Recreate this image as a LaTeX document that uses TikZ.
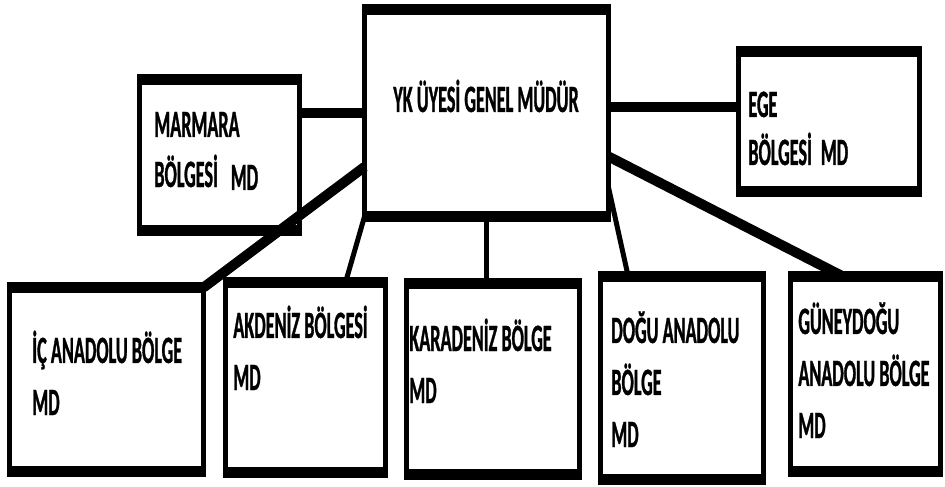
\documentclass[tikz,border=0pt]{standalone}
\usepackage{fontspec}
\setmainfont[FakeStretch=0.47, BoldFeatures={FakeBold=0.8}]{Carlito}
\usetikzlibrary{calc,fit}

\tikzset{
  region/.style={draw, fill=white, line width=0.1cm, inner sep=0pt, outer sep=0pt},
  bar/.style={line width=0.22cm},
  thinlink/.style={line width=0.1cm},
  thicklink/.style={line width=0.2cm},
  lbl/.style={inner sep=0pt, anchor=base west, align=left,
    font=\fontsize{22}{29.6}\selectfont\bfseries},
}

\begin{document}
\begin{tikzpicture}[x=0.02cm,y=-0.02cm]
  \useasboundingbox (0,0) rectangle (945,486);
  % boxes
  \node[region, fit={(364.5,9.5) (608.5,216.5)}] (yk) {};
  \node[region, fit={(139.5,79.5) (299.5,230.5)}] (marmara) {};
  \node[region, fit={(738.5,51.5) (919.5,191.5)}] (ege) {};
  \node[region, fit={(9.5,287.5) (203.5,471.5)}] (ic) {};
  \node[region, fit={(225.5,282.5) (385.5,472.5)}] (akdeniz) {};
  \node[region, fit={(406.5,283.5) (579.5,474.5)}] (karadeniz) {};
  \node[region, fit={(600.5,276.5) (763.5,479.5)}] (dogu) {};
  \node[region, fit={(790.5,276.5) (940.5,471.5)}] (guney) {};
  \foreach \n in {yk,marmara,ege,ic,akdeniz,karadeniz,dogu,guney} {
    \draw[bar] ([xshift=-0.05cm]\n.north west) -- ([xshift=0.05cm]\n.north east);
    \draw[bar] ([xshift=-0.05cm]\n.south west) -- ([xshift=0.05cm]\n.south east);
  }
  % links
  \draw[thicklink] (yk.west) -- (yk.west -| marmara.east);
  \draw[thicklink] ([yshift=0.12cm]yk.east) -- ([yshift=0.12cm]yk.east -| ege.west);
  \draw[thicklink] ($(yk.north west)!0.76!(yk.south west)$) -- (ic.north east);
  \draw[thinlink] (yk.south west) -- ($(akdeniz.north west)!0.75!(akdeniz.north east)$);
  \draw[thinlink] (yk.south) -- (yk.south |- karadeniz.north);
  \draw[thinlink] ($(yk.north east)!0.86!(yk.south east)$) -- ($(dogu.north west)!0.17!(dogu.north east)$);
  \draw[thicklink] ($(yk.north east)!0.71!(yk.south east)$) -- ($(guney.north west)!0.35!(guney.north east)$);
  % texts (base = last line)
  \node[lbl] (yk-t) at (393,112) {YK ÜYESİ GENEL MÜDÜR};
  \node[lbl] (marmara-t) at (154,187) {MARMARA\\[-0.04cm]BÖLGESİ\hspace{0.26cm}\raisebox{-0.06cm}{MD}};
  \node[lbl] (ege-t) at (748,165) {EGE\\[-0.08cm]BÖLGESİ\hspace{0.18cm}MD};
  \node[lbl] (ic-t) at (32,415) {İÇ ANADOLU BÖLGE\\MD};
  \node[lbl] (akdeniz-t) at (233,390) {AKDENİZ BÖLGESİ\\MD};
  \node[lbl] (karadeniz-t) at (409,403) {KARADENİZ BÖLGE\\MD};
  \node[lbl] (dogu-t) at (611,447) {DOĞU ANADOLU\\BÖLGE\\MD};
  \node[lbl] (guney-t) at (798,438) {GÜNEYDOĞU\\ANADOLU BÖLGE\\MD};
\end{tikzpicture}
\end{document}
